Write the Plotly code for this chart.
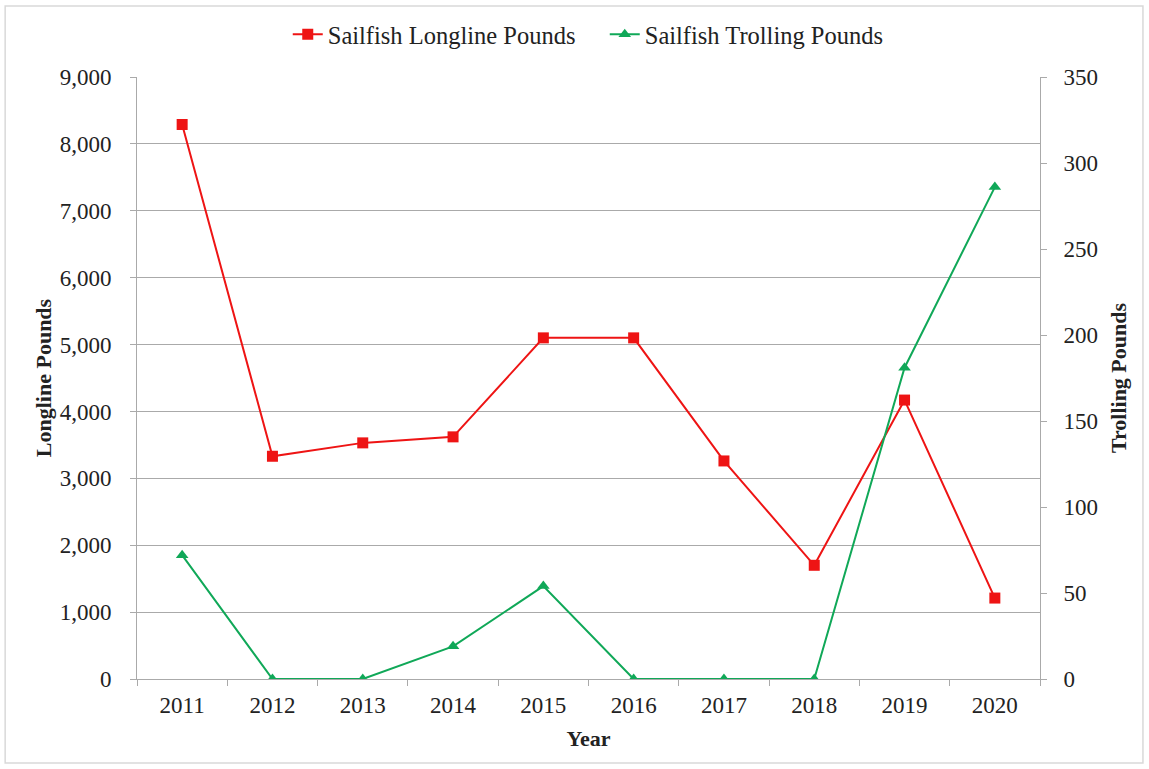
import plotly.graph_objects as go

# Sailfish landings by year
years = ["2011", "2012", "2013", "2014", "2015", "2016", "2017", "2018", "2019", "2020"]
longline_pounds = [8290, 3330, 3530, 3620, 5100, 5100, 3260, 1700, 4170, 1210]
trolling_pounds = [72, 0, 0, 19, 54, 0, 0, 0, 181, 286]

left_ticks = list(range(0, 9001, 1000))
right_ticks = list(range(0, 351, 50))

FONT = "Liberation Serif, Times New Roman, serif"
RED = "#ee1414"
GREEN = "#10a858"
GRID = "#aaaaaa"

fig = go.Figure()
fig.add_trace(go.Scatter(
    x=years, y=longline_pounds, name="Sailfish Longline Pounds",
    mode="lines+markers",
    line=dict(color=RED, width=2),
    marker=dict(symbol="square", size=11, color=RED),
))
fig.add_trace(go.Scatter(
    x=years, y=trolling_pounds, name="Sailfish Trolling Pounds",
    mode="lines+markers", yaxis="y2",
    line=dict(color=GREEN, width=2),
    marker=dict(symbol="triangle-up", size=11, color=GREEN),
))

fig.update_layout(
    width=1149, height=769,
    margin=dict(l=137, r=109, t=77, b=90),
    paper_bgcolor="white", plot_bgcolor="white",
    font=dict(family=FONT, size=23, color="#222222"),
    showlegend=True,
    legend=dict(orientation="h", x=0.518, xanchor="center", y=1.071, yanchor="middle",
                font=dict(size=24.5), itemwidth=30, entrywidth=272,
                bgcolor="rgba(0,0,0,0)"),
    xaxis=dict(
        type="category", range=[-0.5, 9.5],
        showline=True, linecolor=GRID, linewidth=1,
        ticks="outside", tickson="boundaries", ticklen=6, tickcolor=GRID,
        showgrid=False, ticklabelstandoff=5,
        title=dict(text="<b>Year</b>", standoff=14, font=dict(size=22)),
    ),
    yaxis=dict(
        range=[0, 9000], tickvals=left_ticks,
        tickformat=",d",
        showline=True, linecolor=GRID, linewidth=1,
        ticks="outside", ticklen=6, tickcolor=GRID,
        showgrid=True, gridcolor=GRID, gridwidth=1,
        zeroline=False, ticklabelstandoff=14,
        title=dict(text="<b>Longline Pounds</b>", standoff=1, font=dict(size=22)),
    ),
    yaxis2=dict(
        overlaying="y", side="right",
        range=[0, 350], tickvals=right_ticks,
        showline=True, linecolor=GRID, linewidth=1,
        ticks="outside", ticklen=6, tickcolor=GRID,
        showgrid=False, zeroline=False, ticklabelstandoff=12,
        title=dict(text="<b>Trolling Pounds</b>", standoff=13, font=dict(size=22)),
    ),
    shapes=[dict(
        type="rect", xref="paper", yref="paper",
        x0=-0.146, x1=1.114, y0=-0.1395, y1=1.118,
        line=dict(color="#d9d9d9", width=1.5), layer="below",
    )],
)

# drop the default 8px page margin so the figure sits at the window origin
fig.write_html("out.html", config={"displayModeBar": False},
               post_script="document.body.style.margin='0';")
